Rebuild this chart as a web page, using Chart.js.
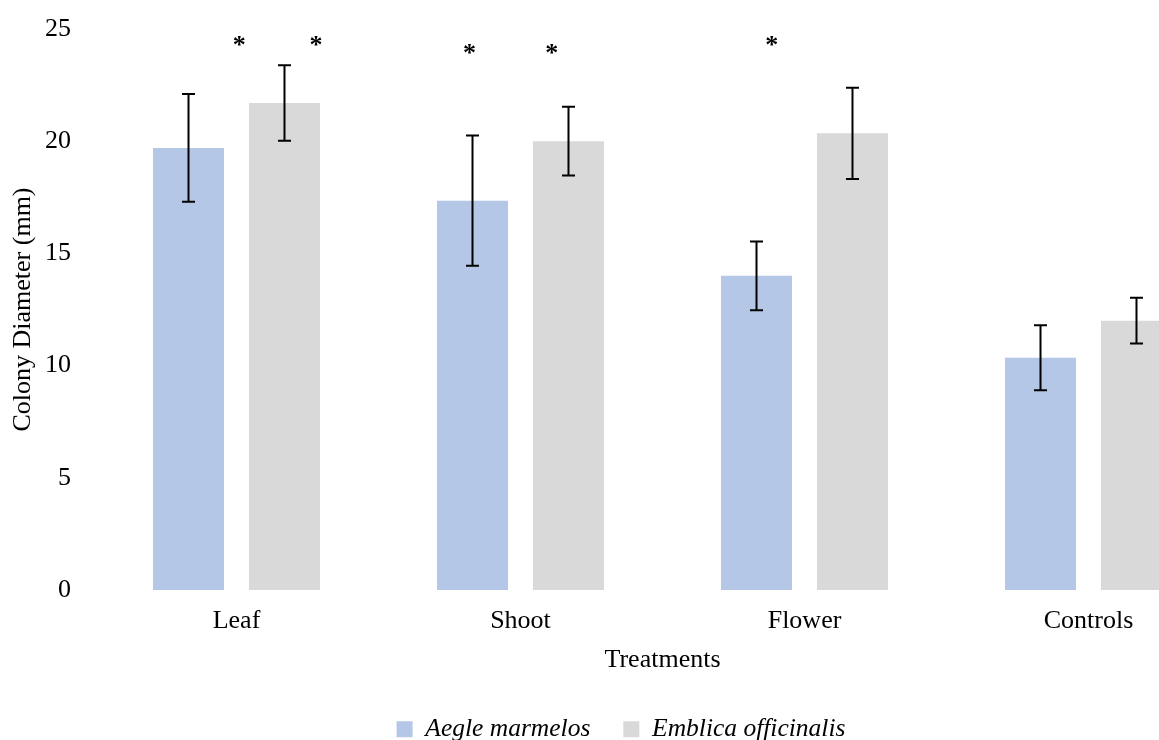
<!DOCTYPE html>
<html>
<head>
<meta charset="utf-8">
<script src="https://cdn.jsdelivr.net/npm/chart.js@4.4.0/dist/chart.umd.min.js"></script>
<style>
  html, body { margin: 0; padding: 0; background: #ffffff; overflow: hidden; width: 1159px; height: 740px; }
  #wrap { position: absolute; left: 0; top: 0; }
  canvas { display: block; }
</style>
</head>
<body>
<div id="wrap"><canvas id="chart" width="1242" height="752"></canvas></div>
<script>
// ---- data ----
const categories = ['Leaf', 'Shoot', 'Flower', 'Controls'];
const seriesNames = ['Aegle marmelos', 'Emblica officinalis'];
const aegleMeans = [19.7, 17.35, 14.0, 10.35];
const aegleErrors = [2.4, 2.9, 1.53, 1.45];
const emblicaMeans = [21.7, 20.0, 20.35, 12.0];
const emblicaErrors = [1.68, 1.53, 2.03, 1.02];
const yTicks = [0, 5, 10, 15, 20, 25];
// significance marks: position along the category axis (index units) and height (mm)
const starLabel = '*';
const starAxisPos = [0.01, 0.28, 0.82, 1.11, 1.885];
const starHeights = [24.25, 24.25, 23.88, 23.88, 24.25];

const FONT = 'Liberation Serif, Times New Roman, serif';

const errorBarPlugin = {
  id: 'errorBars',
  afterDatasetsDraw(chart) {
    const ctx = chart.ctx;
    const yScale = chart.scales.y;
    ctx.save();
    ctx.strokeStyle = '#000000';
    ctx.lineWidth = 2;
    chart.data.datasets.forEach((ds, i) => {
      const meta = chart.getDatasetMeta(i);
      if (!ds.errors) return;
      meta.data.forEach((bar, j) => {
        const v = ds.data[j];
        const e = ds.errors[j];
        const x = bar.x;
        const yTop = yScale.getPixelForValue(v + e);
        const yBot = yScale.getPixelForValue(v - e);
        const cap = 6.5;
        ctx.beginPath();
        ctx.moveTo(x, yTop); ctx.lineTo(x, yBot);
        ctx.moveTo(x - cap, yTop); ctx.lineTo(x + cap, yTop);
        ctx.moveTo(x - cap, yBot); ctx.lineTo(x + cap, yBot);
        ctx.stroke();
      });
    });
    // significance asterisks
    const xScale = chart.scales.x;
    ctx.fillStyle = '#000000';
    ctx.font = 'bold 26px ' + FONT;
    ctx.textAlign = 'center';
    ctx.textBaseline = 'middle';
    starAxisPos.forEach((p, k) => {
      ctx.fillText(starLabel, xScale.getPixelForValue(p), yScale.getPixelForValue(starHeights[k]));
    });
    ctx.restore();
  }
};

const chart = new Chart(document.getElementById('chart'), {
  type: 'bar',
  data: {
    labels: categories,
    datasets: [
      {
        label: seriesNames[0],
        data: aegleMeans,
        errors: aegleErrors,
        backgroundColor: '#B4C7E7',
        borderColor: '#B4C7E7',
        borderWidth: 0,
        categoryPercentage: 0.676,
        barPercentage: 0.74
      },
      {
        label: seriesNames[1],
        data: emblicaMeans,
        errors: emblicaErrors,
        backgroundColor: '#D9D9D9',
        borderColor: '#D9D9D9',
        borderWidth: 0,
        categoryPercentage: 0.676,
        barPercentage: 0.74
      }
    ]
  },
  options: {
    responsive: false,
    animation: false,
    devicePixelRatio: 1,
    layout: { padding: { left: 11.5, right: 11.5, top: 29, bottom: 0 } },
    plugins: {
      tooltip: { enabled: false },
      legend: {
        position: 'bottom',
        labels: {
          color: '#000000',
          font: { family: FONT, size: 25.5, style: 'italic' },
          boxWidth: 16,
          boxHeight: 16,
          padding: 33
        }
      }
    },
    scales: {
      x: {
        grid: { display: false, drawTicks: false },
        border: { display: false },
        ticks: { color: '#000000', font: { family: FONT, size: 26 }, padding: 16 },
        title: {
          display: true,
          text: 'Treatments',
          color: '#000000',
          font: { family: FONT, size: 26, lineHeight: 1.2 },
          padding: { top: 0, bottom: 7.4 }
        },
        afterFit(s) { s.height = 93.5; }
      },
      y: {
        min: 0,
        max: 25,
        afterBuildTicks(s) { s.ticks = yTicks.map(v => ({ value: v })); },
        grid: { display: false, drawTicks: false },
        border: { display: false },
        ticks: { color: '#000000', font: { family: FONT, size: 26, lineHeight: 0.42 }, padding: 23.5 },
        title: {
          display: true,
          text: 'Colony Diameter (mm)',
          color: '#000000',
          font: { family: FONT, size: 26, lineHeight: 0.9 },
          padding: { top: 0, bottom: 0 }
        },
        afterFit(s) { s.width = 83; }
      }
    }
  },
  plugins: [errorBarPlugin]
});
</script>
</body>
</html>
